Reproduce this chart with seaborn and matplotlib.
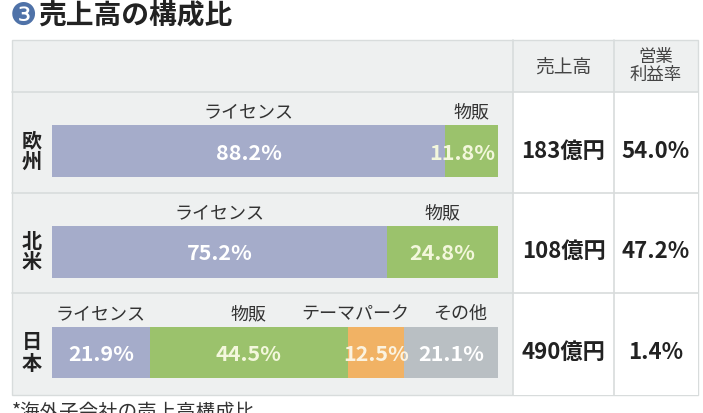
import matplotlib.pyplot as plt
import seaborn as sns
import pandas as pd
from matplotlib.patches import Rectangle
from matplotlib.lines import Line2D

sns.set_theme(style="white")
plt.rcParams['font.family'] = ['Noto Sans CJK JP', 'DejaVu Sans']

# data
regions = ['欧州', '北米', '日本']
segments = ['ライセンス', '物販', 'テーマパーク', 'その他']
europe_share = [88.2, 11.8]
america_share = [75.2, 24.8]
japan_share = [21.9, 44.5, 12.5, 21.1]
sales = ['183億円', '108億円', '490億円']
op_margin = ['54.0%', '47.2%', '1.4%']

seg_colors = {'ライセンス': '#a5acca', '物販': '#9bc26c',
              'テーマパーク': '#f1b264', 'その他': '#b9bfc3'}
txt_colors = {'ライセンス': 'white', '物販': '#f3f7dc',
              'テーマパーク': '#fbf3e0', 'その他': 'white'}

rows = []
for reg, shares in zip(regions, [europe_share, america_share, japan_share]):
    cum = 0
    for seg, v in zip(segments, shares):
        cum += v
        rows.append({'region': reg, 'segment': seg, 'share': v, 'cum': cum})
df = pd.DataFrame(rows)

W, H = 703, 413
fig = plt.figure(figsize=(W / 100, H / 100), dpi=100)


def fx(x):
    return x / W


def fy(y):
    return 1 - y / H


# table background
line_c = '#d8dcdc'
fig.patches.append(Rectangle((fx(12), fy(395)), fx(686), 355 / H,
                             transform=fig.transFigure, facecolor='#eef0f0',
                             edgecolor=line_c, lw=1, zorder=-2))
fig.patches.append(Rectangle((fx(513), fy(395)), fx(185), 303 / H,
                             transform=fig.transFigure, facecolor='white',
                             edgecolor='none', zorder=-1))
for y in [92, 193, 293]:
    fig.lines.append(Line2D([fx(12), fx(698)], [fy(y), fy(y)],
                            transform=fig.transFigure, color=line_c, lw=1.2))
for x in [513, 614]:
    fig.lines.append(Line2D([fx(x), fx(x)], [fy(40), fy(395)],
                            transform=fig.transFigure, color=line_c, lw=1.2))

# bars
ax = fig.add_axes([fx(12), fy(395), 500 / W, 303 / H])
ax.set_facecolor('none')
for seg in segments[::-1]:
    sub = df[df['segment'] == seg]
    sns.barplot(data=sub, x='cum', y='region', order=regions, orient='h',
                color=seg_colors[seg], saturation=1, width=0.516,
                errorbar=None, linewidth=0, ax=ax)
ax.set_xlim(-40 / 4.46, 100 + 14 / 4.46)
ax.set_ylim((395 - 151) / 100.75, (92 - 151) / 100.75)
ax.axis('off')

name_nudge = {('日本', 'テーマパーク'): -4.7, ('日本', 'その他'): 2.0}
for _, r in df.iterrows():
    i = regions.index(r['region'])
    mid = r['cum'] - r['share'] / 2
    ax.text(mid + name_nudge.get((r['region'], r['segment']), 0), i - 0.38,
            r['segment'], ha='center', va='center', fontsize=13, color='#333333')
    if r['share'] < 12:
        ax.text(r['cum'] - 0.7, i + 0.02, f"{r['share']:.1f}%", ha='right',
                va='center', fontsize=15.5, fontweight='bold',
                color=txt_colors[r['segment']])
    else:
        ax.text(mid, i + 0.02, f"{r['share']:.1f}%", ha='center', va='center',
                fontsize=15.5, fontweight='bold', color=txt_colors[r['segment']])

# region labels and value columns
row_mid = [151, 251.5, 352.5]
for reg, s, m, y in zip(regions, sales, op_margin, row_mid):
    fig.text(fx(32), fy(y), '\n'.join(reg), ha='center', va='center',
             fontsize=14.5, fontweight='bold', color='#222222', linespacing=1.0)
    fig.text(fx(563.5), fy(y), s, ha='center', va='center', fontsize=16,
             fontweight='bold', color='#222222')
    fig.text(fx(656), fy(y), m, ha='center', va='center', fontsize=16,
             fontweight='bold', color='#222222')

fig.text(fx(563.5), fy(67), '売上高', ha='center', va='center', fontsize=13.5,
         color='#444444')
fig.text(fx(656), fy(66), '営業\n利益率', ha='center', va='center', fontsize=12.5,
         color='#444444', linespacing=1.0)

# title and note
fig.text(fx(10), fy(16), '❸', ha='left', va='center', fontsize=22,
         color='#4f72a8', family=['DejaVu Sans'])
fig.text(fx(38), fy(15), '売上高の構成比', ha='left', va='center', fontsize=20,
         fontweight='bold', color='#222222')
fig.text(fx(12), fy(402), '*海外子会社の売上高構成比', ha='left', va='top',
         fontsize=14, color='#333333')

fig.savefig('out.png', dpi=100)
